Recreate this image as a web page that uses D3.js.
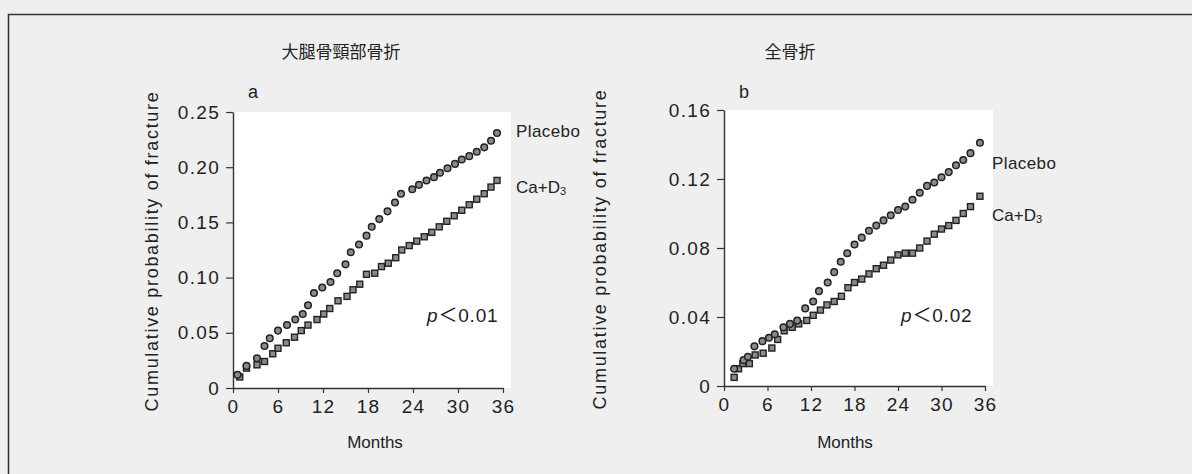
<!DOCTYPE html>
<html>
<head>
<meta charset="utf-8">
<script src="https://cdn.jsdelivr.net/npm/d3@7"></script>
<style>
  body { margin: 0; background: #efefef; }
  svg { display: block; }
  text { font-family: "Liberation Sans", Arial, "Noto Sans CJK JP", sans-serif; fill: #222; }
</style>
</head>
<body>
<svg id="chart" width="1192" height="474"></svg>
<script>
// panel titles
var titles = ["大腿骨頸部骨折", "全骨折"];
var panelLetters = ["a", "b"];
var seriesNames = ["Placebo", "Ca+D"];
var pLabels = ["0.01", "0.02"];

// panel a: hip fracture
var monthsA_placebo = [0.6, 1.8, 3.2, 4.2, 4.9, 6.0, 7.2, 8.3, 9.3, 10.0, 10.8, 11.9, 13.0, 13.9, 15.0, 15.7, 16.8, 17.8, 18.5, 19.5, 20.6, 21.6, 22.4, 23.9, 24.8, 25.8, 26.8, 27.6, 28.6, 29.6, 30.5, 31.5, 32.5, 33.5, 34.4, 35.2];
var valuesA_placebo = [0.012, 0.020, 0.027, 0.038, 0.045, 0.052, 0.057, 0.062, 0.067, 0.075, 0.086, 0.091, 0.096, 0.104, 0.112, 0.123, 0.130, 0.138, 0.146, 0.153, 0.160, 0.168, 0.176, 0.180, 0.184, 0.188, 0.191, 0.195, 0.199, 0.203, 0.207, 0.210, 0.214, 0.218, 0.224, 0.231];
var monthsA_cad = [0.9, 1.8, 3.2, 4.2, 5.3, 6.0, 7.1, 8.2, 9.1, 10.0, 11.2, 12.1, 12.9, 14.0, 15.2, 16.0, 16.9, 17.8, 18.9, 19.8, 20.7, 21.7, 22.5, 23.5, 24.5, 25.5, 26.5, 27.5, 28.5, 29.5, 30.5, 31.5, 32.5, 33.5, 34.4, 35.2];
var valuesA_cad = [0.010, 0.018, 0.021, 0.024, 0.031, 0.036, 0.041, 0.046, 0.052, 0.057, 0.062, 0.067, 0.072, 0.079, 0.083, 0.089, 0.094, 0.103, 0.104, 0.110, 0.113, 0.118, 0.125, 0.129, 0.133, 0.137, 0.141, 0.146, 0.151, 0.156, 0.161, 0.166, 0.171, 0.176, 0.182, 0.188];

// panel b: all fractures
var monthsB_placebo = [1.4, 2.7, 3.3, 4.2, 5.3, 6.2, 7.0, 8.2, 9.1, 10.1, 11.2, 12.3, 13.1, 14.3, 15.2, 16.1, 17.0, 18.0, 19.0, 20.0, 21.0, 22.0, 23.0, 24.0, 25.0, 26.0, 27.0, 28.0, 29.0, 30.0, 31.0, 32.0, 33.0, 34.0, 35.3];
var valuesB_placebo = [0.010, 0.015, 0.017, 0.023, 0.026, 0.028, 0.030, 0.034, 0.036, 0.038, 0.045, 0.049, 0.055, 0.060, 0.066, 0.072, 0.077, 0.082, 0.086, 0.090, 0.093, 0.096, 0.099, 0.102, 0.104, 0.108, 0.112, 0.116, 0.118, 0.121, 0.124, 0.128, 0.131, 0.135, 0.141];
var monthsB_cad = [1.4, 2.0, 2.6, 3.5, 4.3, 5.4, 6.6, 7.4, 8.3, 9.4, 10.3, 11.4, 12.3, 13.3, 14.2, 15.2, 16.2, 17.1, 18.0, 19.0, 20.0, 21.0, 22.0, 23.0, 24.0, 25.0, 26.0, 27.0, 28.0, 29.0, 30.0, 31.0, 32.0, 33.0, 34.0, 35.3];
var valuesB_cad = [0.005, 0.010, 0.013, 0.013, 0.018, 0.019, 0.022, 0.027, 0.032, 0.034, 0.036, 0.038, 0.041, 0.044, 0.047, 0.049, 0.052, 0.057, 0.060, 0.062, 0.065, 0.068, 0.070, 0.073, 0.076, 0.077, 0.077, 0.080, 0.084, 0.088, 0.091, 0.093, 0.096, 0.100, 0.104, 0.110];

var xTicks = [0, 6, 12, 18, 24, 30, 36];
var yTicksA = [0, 0.05, 0.10, 0.15, 0.20, 0.25];
var yTicksB = [0, 0.04, 0.08, 0.12, 0.16];

var svg = d3.select("#chart");

// outer frame
svg.append("path")
  .attr("d", "M8.5,474 L8.5,14.5 L1192,14.5")
  .attr("fill", "none")
  .attr("stroke", "#333")
  .attr("stroke-width", 1.5);

var panels = [
  {
    left: 233, right: 503, top: 112, bottom: 388, yMax: 0.25, yTicks: yTicksA, yFmt: d => d === 0 ? "0" : d3.format(".2f")(d),
    placebo: { m: monthsA_placebo, v: valuesA_placebo },
    cad: { m: monthsA_cad, v: valuesA_cad },
    titleX: 341, yTitleX: 152, monthsX: 375,
    letterX: 248, legendX: 516, placeboY: 137, cadY: 193, pX: 427,
    title: titles[0], letter: panelLetters[0], p: pLabels[0]
  },
  {
    left: 724, right: 985, top: 110, bottom: 386, yMax: 0.16, yTicks: yTicksB, yFmt: d => d === 0 ? "0" : d3.format(".2f")(d),
    placebo: { m: monthsB_placebo, v: valuesB_placebo },
    cad: { m: monthsB_cad, v: valuesB_cad },
    titleX: 790, yTitleX: 600, monthsX: 845,
    letterX: 739, legendX: 992, placeboY: 169, cadY: 221, pX: 901,
    title: titles[1], letter: panelLetters[1], p: pLabels[1]
  }
];

panels.forEach(function (cfg) {
  var x = d3.scaleLinear().domain([0, 36]).range([cfg.left, cfg.right]);
  var y = d3.scaleLinear().domain([0, cfg.yMax]).range([cfg.bottom, cfg.top]);

  var g = svg.append("g");

  // white plot area
  g.append("rect")
    .attr("x", x(0))
    .attr("y", y(cfg.yMax))
    .attr("width", x(36) - x(0) + 8)
    .attr("height", y(0) - y(cfg.yMax))
    .attr("fill", "#fff");

  // title
  g.append("text")
    .attr("x", cfg.titleX)
    .attr("y", 58)
    .attr("text-anchor", "middle")
    .style("font-family", "'Noto Sans CJK JP', sans-serif")
    .style("font-size", "17px")
    .text(cfg.title);

  // panel letter
  g.append("text")
    .attr("x", cfg.letterX)
    .attr("y", 98)
    .style("font-size", "18px")
    .text(cfg.letter);

  // axes
  var yAxis = d3.axisLeft(y).tickValues(cfg.yTicks).tickFormat(cfg.yFmt).tickSize(7).tickSizeOuter(0).tickPadding(6);
  var xAxis = d3.axisBottom(x).tickValues(xTicks).tickSize(5).tickSizeOuter(0).tickPadding(7);

  var ya = g.append("g").attr("transform", "translate(" + x(0) + ",0)").call(yAxis);
  var xa = g.append("g").attr("transform", "translate(0," + y(0) + ")").call(xAxis);
  [ya, xa].forEach(function (a) {
    a.select(".domain").attr("stroke", "#333").attr("stroke-width", 1.4);
    a.selectAll(".tick line").attr("stroke", "#333").attr("stroke-width", 1.2);
    a.selectAll(".tick text")
      .style("font-size", "19px")
      .style("letter-spacing", "1.3px")
      .attr("fill", "#222")
      .style("font-family", "'Liberation Sans', Arial, sans-serif");
  });

  // axis titles
  g.append("text")
    .attr("transform", "translate(" + cfg.yTitleX + "," + ((cfg.top + cfg.bottom) / 2 + 1) + ") rotate(-90)")
    .attr("text-anchor", "middle")
    .attr("dy", "0.35em")
    .style("font-size", "18px")
    .style("letter-spacing", "1.7px")
    .text("Cumulative probability of fracture");

  g.append("text")
    .attr("x", cfg.monthsX)
    .attr("y", 448)
    .attr("text-anchor", "middle")
    .style("font-size", "17px")
    .text("Months");

  // Ca+D3 squares
  var cadPts = cfg.cad.m.map((m, i) => [m, cfg.cad.v[i]]);
  g.selectAll(".sq")
    .data(cadPts)
    .join("rect")
    .attr("class", "sq")
    .attr("x", d => x(d[0]) - 3)
    .attr("y", d => y(d[1]) - 3)
    .attr("width", 6)
    .attr("height", 6)
    .attr("fill", "#8a8a8a")
    .attr("stroke", "#222")
    .attr("stroke-width", 1.4);

  // placebo circles
  var plPts = cfg.placebo.m.map((m, i) => [m, cfg.placebo.v[i]]);
  g.selectAll(".ci")
    .data(plPts)
    .join("circle")
    .attr("class", "ci")
    .attr("cx", d => x(d[0]))
    .attr("cy", d => y(d[1]))
    .attr("r", 3.3)
    .attr("fill", "#8a8a8a")
    .attr("stroke", "#222")
    .attr("stroke-width", 1.5);

  // series labels
  g.append("text")
    .attr("x", cfg.legendX)
    .attr("y", cfg.placeboY)
    .style("font-size", "17px")
    .style("letter-spacing", "0.4px")
    .text(seriesNames[0]);

  var cadLabel = g.append("text")
    .attr("x", cfg.legendX)
    .attr("y", cfg.cadY)
    .style("font-size", "17px");
  cadLabel.append("tspan").text(seriesNames[1]);
  cadLabel.append("tspan").attr("dy", 2).style("font-size", "11px").text("3");

  // p value
  var pText = g.append("text")
    .attr("x", cfg.pX)
    .attr("y", 322)
    .style("font-size", "19px")
    .style("letter-spacing", "0.8px");
  pText.append("tspan").style("font-style", "italic").text("p");
  pText.append("tspan").style("font-family", "'Noto Sans CJK JP', sans-serif").text("＜");
  pText.append("tspan").text(cfg.p);
});
</script>
</body>
</html>
